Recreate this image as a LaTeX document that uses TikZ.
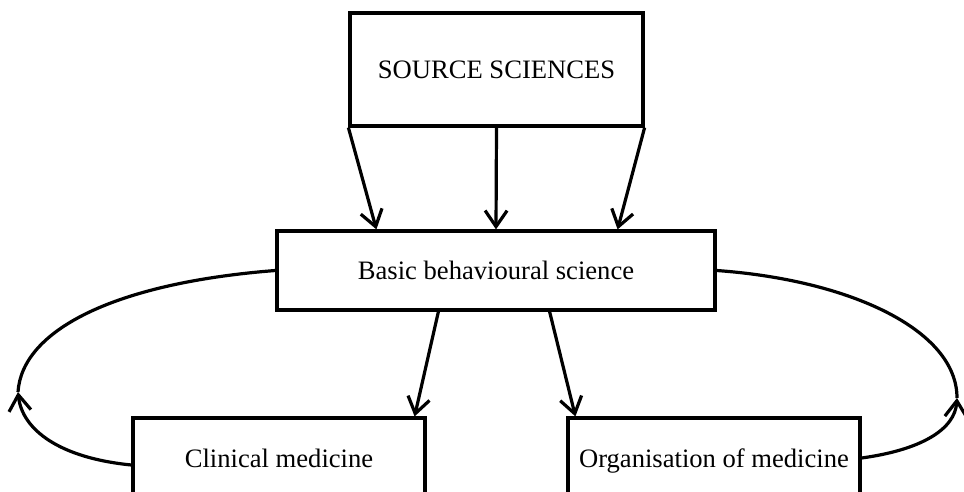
\documentclass[tikz,border=0pt]{standalone}
\usepackage{fontspec}
\setmainfont{Liberation Serif}
\usetikzlibrary{arrows.meta}

\begin{document}
\begin{tikzpicture}[x=0.5pt, y=-0.5pt,
    box/.style={rectangle, draw, line width=1.6pt, inner sep=2pt, text height=1.14em, text depth=0.22em, font=\fontsize{13.3}{15}\selectfont},
    link/.style={line width=1.6pt, -{Straight Barb[length=8pt, width=11pt, line width=1.6pt]}}]
    \useasboundingbox (0,0) rectangle (964,492);
    \clip (0,0) rectangle (964,492);
    \node[box, minimum width=146.5pt, minimum height=56.5pt] (src) at (496.5,69.5) {SOURCE SCIENCES};
    \node[box, minimum width=219pt, minimum height=39.5pt] (bbs) at (496,270.5) {Basic behavioural science};
    \node[box, minimum width=146pt, minimum height=40pt] (clin) at (279,458) {Clinical medicine};
    \node[box, minimum width=146pt, minimum height=40pt] (org) at (714,458) {Organisation of medicine};
    % source sciences feed the basic science
    \draw[link] (src.south west) -- ([xshift=50.5pt]bbs.north west);
    \draw[link] (src.south) -- (bbs.north);
    \draw[link] (src.south east) -- ([xshift=-49.5pt]bbs.north east);
    % basic science to the two applications
    \draw[link] ([xshift=81.5pt]bbs.south west) -- ([xshift=-6pt]clin.north east);
    \draw[link] ([xshift=-83.5pt]bbs.south east) -- ([xshift=4.5pt]org.north west);
    % feedback loops
    \coordinate (lturn) at (18,392);
    \coordinate (rturn) at (957,398);
    \draw[link] ([yshift=-3.5pt]clin.west) .. controls (60,458) and (22,430) .. (lturn);
    \draw[line width=1.6pt] (lturn) .. controls (22,330) and (115,283) .. (bbs.west);
    \draw[link] (org.east) .. controls (920,450) and (955,430) .. (rturn);
    \draw[line width=1.6pt] (rturn) .. controls (957,330) and (850,280) .. (bbs.east);
\end{tikzpicture}
\end{document}
